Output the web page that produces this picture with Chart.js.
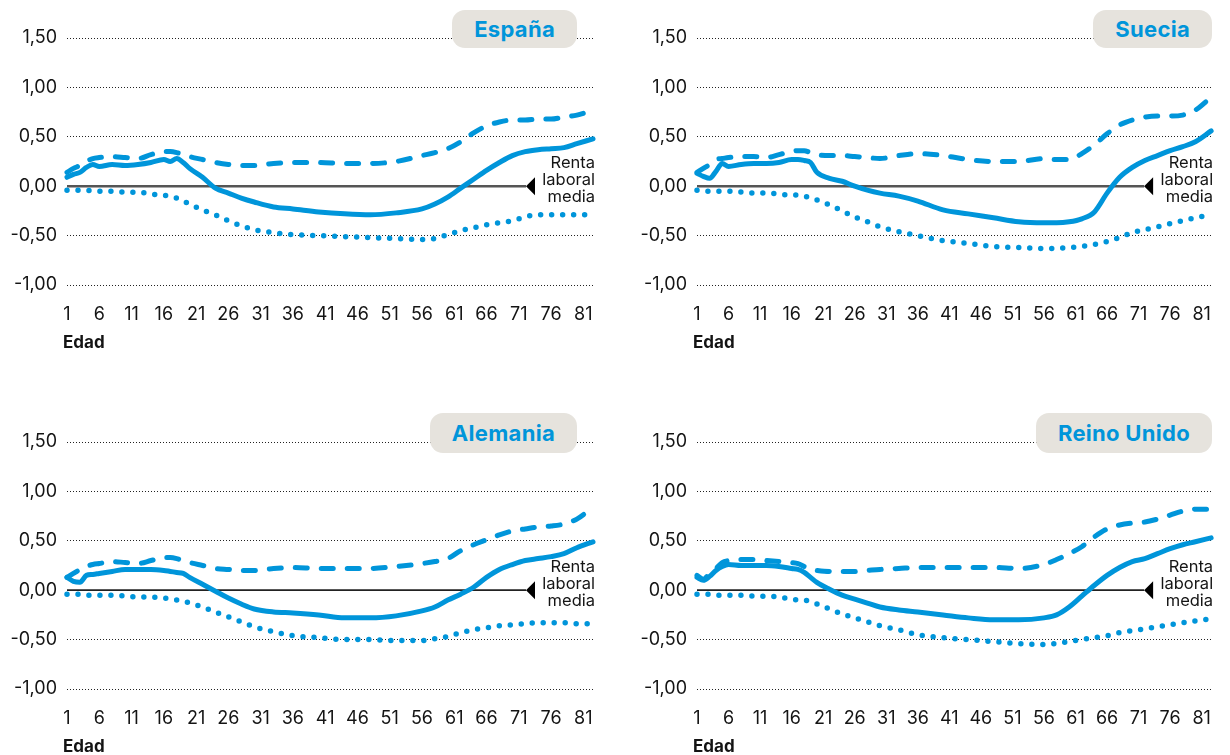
<!DOCTYPE html>
<html lang="es">
<head>
<meta charset="utf-8">
<title>Renta laboral por edad</title>
<script src="https://cdn.jsdelivr.net/npm/chart.js@4.4.1/dist/chart.umd.min.js"></script>
<style>
	html, body { margin: 0; padding: 0; background: #fff; overflow: hidden; }
	body { width: 1230px; height: 755px; position: relative; font-family: Inter, 'Noto Sans', sans-serif; }
	.panel { position: absolute; height: 350px; }
	.panel canvas { position: absolute; left: 0; top: 0; }
	.badge {
		position: absolute;
		height: 38px;
		line-height: 38px;
		padding: 0 22px;
		border-radius: 13px;
		background: #e6e3dd;
		color: #0095da;
		font-weight: 700;
		font-size: 22px;
		letter-spacing: 0.3px;
		z-index: 2;
		white-space: nowrap;
	}
</style>
</head>
<body>
<div class="panel" id="p-es" style="left:0;top:0;width:615px"><canvas id="c-es" width="615" height="350"></canvas><div class="badge" style="right:38px;top:10px">España</div></div>
<div class="panel" id="p-se" style="left:630px;top:0;width:600px"><canvas id="c-se" width="600" height="350"></canvas><div class="badge" style="right:18px;top:10px">Suecia</div></div>
<div class="panel" id="p-de" style="left:0;top:404px;width:615px"><canvas id="c-de" width="615" height="350"></canvas><div class="badge" style="right:38px;top:9px;height:40px;line-height:40px">Alemania</div></div>
<div class="panel" id="p-uk" style="left:630px;top:404px;width:600px"><canvas id="c-uk" width="600" height="350"></canvas><div class="badge" style="right:18px;top:9px;height:40px;line-height:40px">Reino Unido</div></div>

<script>
'use strict';

// edades en las que se leyeron los valores
const ages = [1, 2, 3, 4, 5, 6, 8, 10, 12, 14, 16, 17, 18, 19, 20, 22, 24, 26, 28, 30, 33, 36, 40, 44, 48, 52, 56, 58, 60, 62, 64, 66, 68, 70, 72, 74, 76, 78, 80, 82.5];
const xTickAges = [1, 6, 11, 16, 21, 26, 31, 36, 41, 46, 51, 56, 61, 66, 71, 76, 81];
const yTickValues = [-1, -0.5, 0, 0.5, 1, 1.5];

// España
const esSolid = [0.09, 0.12, 0.14, 0.19, 0.22, 0.20, 0.22, 0.21, 0.22, 0.24, 0.27, 0.25, 0.28, 0.24, 0.18, 0.09, -0.02, -0.07, -0.12, -0.16, -0.21, -0.23, -0.26, -0.28, -0.29, -0.27, -0.23, -0.18, -0.11, -0.02, 0.07, 0.16, 0.24, 0.31, 0.35, 0.37, 0.38, 0.39, 0.43, 0.48];
const esDashed = [0.14, 0.18, 0.21, 0.25, 0.28, 0.29, 0.30, 0.29, 0.28, 0.32, 0.35, 0.35, 0.34, 0.32, 0.30, 0.27, 0.24, 0.22, 0.21, 0.21, 0.23, 0.24, 0.24, 0.23, 0.23, 0.25, 0.31, 0.34, 0.38, 0.45, 0.54, 0.61, 0.65, 0.67, 0.67, 0.68, 0.68, 0.70, 0.72, 0.77];
const esDotted = [-0.04, -0.04, -0.04, -0.04, -0.05, -0.05, -0.05, -0.06, -0.06, -0.08, -0.09, -0.11, -0.12, -0.15, -0.18, -0.24, -0.29, -0.35, -0.40, -0.44, -0.47, -0.49, -0.50, -0.51, -0.52, -0.53, -0.54, -0.53, -0.49, -0.45, -0.42, -0.39, -0.37, -0.35, -0.31, -0.29, -0.29, -0.29, -0.29, -0.29];

// Suecia
const seSolid = [0.13, 0.10, 0.08, 0.15, 0.23, 0.20, 0.22, 0.23, 0.23, 0.24, 0.27, 0.27, 0.26, 0.24, 0.14, 0.08, 0.05, 0.00, -0.04, -0.07, -0.10, -0.15, -0.24, -0.28, -0.32, -0.36, -0.37, -0.37, -0.36, -0.33, -0.26, -0.07, 0.09, 0.19, 0.26, 0.31, 0.36, 0.40, 0.45, 0.56];
const seDashed = [0.14, 0.18, 0.22, 0.27, 0.28, 0.29, 0.30, 0.30, 0.29, 0.32, 0.35, 0.36, 0.36, 0.34, 0.32, 0.31, 0.31, 0.30, 0.29, 0.28, 0.31, 0.33, 0.31, 0.27, 0.25, 0.25, 0.28, 0.27, 0.27, 0.33, 0.42, 0.53, 0.62, 0.67, 0.70, 0.71, 0.71, 0.72, 0.77, 0.90];
const seDotted = [-0.04, -0.05, -0.05, -0.05, -0.05, -0.05, -0.06, -0.07, -0.07, -0.08, -0.09, -0.09, -0.10, -0.12, -0.14, -0.19, -0.25, -0.31, -0.36, -0.41, -0.46, -0.50, -0.55, -0.58, -0.61, -0.62, -0.63, -0.63, -0.62, -0.61, -0.59, -0.56, -0.52, -0.47, -0.44, -0.41, -0.38, -0.35, -0.32, -0.29];

// Alemania
const deSolid = [0.13, 0.09, 0.08, 0.15, 0.16, 0.17, 0.19, 0.21, 0.21, 0.21, 0.20, 0.19, 0.18, 0.17, 0.13, 0.06, -0.01, -0.08, -0.14, -0.19, -0.22, -0.23, -0.25, -0.28, -0.28, -0.26, -0.21, -0.17, -0.10, -0.04, 0.03, 0.13, 0.21, 0.26, 0.30, 0.32, 0.34, 0.37, 0.43, 0.49];
const deDashed = [0.13, 0.17, 0.21, 0.24, 0.26, 0.27, 0.29, 0.28, 0.27, 0.30, 0.33, 0.33, 0.32, 0.30, 0.28, 0.25, 0.22, 0.21, 0.20, 0.20, 0.22, 0.23, 0.22, 0.22, 0.22, 0.24, 0.27, 0.29, 0.32, 0.40, 0.46, 0.51, 0.56, 0.60, 0.62, 0.64, 0.65, 0.67, 0.72, 0.84];
const deDotted = [-0.04, -0.04, -0.04, -0.05, -0.05, -0.05, -0.05, -0.06, -0.07, -0.07, -0.08, -0.09, -0.10, -0.11, -0.13, -0.17, -0.22, -0.27, -0.32, -0.37, -0.42, -0.46, -0.48, -0.50, -0.50, -0.51, -0.51, -0.49, -0.47, -0.43, -0.40, -0.38, -0.36, -0.35, -0.34, -0.33, -0.33, -0.33, -0.34, -0.34];

// Reino Unido
const ukSolid = [0.13, 0.10, 0.14, 0.20, 0.24, 0.26, 0.25, 0.25, 0.25, 0.24, 0.22, 0.21, 0.18, 0.13, 0.08, 0.01, -0.05, -0.09, -0.13, -0.17, -0.20, -0.22, -0.25, -0.28, -0.30, -0.30, -0.28, -0.25, -0.17, -0.06, 0.05, 0.15, 0.23, 0.29, 0.32, 0.37, 0.42, 0.46, 0.49, 0.53];
const ukDashed = [0.15, 0.11, 0.17, 0.22, 0.28, 0.30, 0.31, 0.31, 0.30, 0.29, 0.28, 0.27, 0.24, 0.21, 0.20, 0.19, 0.19, 0.19, 0.20, 0.21, 0.22, 0.23, 0.23, 0.23, 0.23, 0.22, 0.26, 0.31, 0.37, 0.44, 0.54, 0.62, 0.66, 0.68, 0.69, 0.72, 0.76, 0.80, 0.82, 0.82];
const ukDotted = [-0.04, -0.04, -0.04, -0.05, -0.05, -0.05, -0.05, -0.06, -0.06, -0.07, -0.09, -0.10, -0.10, -0.12, -0.14, -0.19, -0.24, -0.28, -0.32, -0.36, -0.40, -0.45, -0.48, -0.50, -0.52, -0.54, -0.55, -0.54, -0.52, -0.50, -0.48, -0.46, -0.43, -0.41, -0.39, -0.37, -0.35, -0.33, -0.31, -0.29];

const BLUE = '#0095da';
const INK = '#141414';

Chart.defaults.font.family = "Inter, 'Noto Sans', sans-serif";
Chart.defaults.color = INK;

const toPoints = function (values) {
	return ages.map((a, i) => ({ x: a, y: values[i] }));
};

// línea de la renta laboral media, el triángulo y su texto
const zeroLinePlugin = {
	id: 'zeroLine',
	beforeDatasetsDraw(chart, args, opts) {
		const { ctx, chartArea } = chart;
		const y0 = chart.scales.y.getPixelForValue(0);
		const tip = chartArea.right - 67;
		ctx.save();
		ctx.strokeStyle = opts.color;
		ctx.lineWidth = opts.width;
		ctx.beginPath();
		ctx.moveTo(chartArea.left, y0);
		ctx.lineTo(tip, y0);
		ctx.stroke();
		ctx.restore();
	},
	afterDatasetsDraw(chart) {
		const { ctx, chartArea } = chart;
		const y0 = chart.scales.y.getPixelForValue(0);
		const tip = chartArea.right - 67;
		ctx.save();
		ctx.fillStyle = '#000';
		ctx.beginPath();
		ctx.moveTo(tip, y0);
		ctx.lineTo(tip + 9, y0 - 9);
		ctx.lineTo(tip + 9, y0 + 9);
		ctx.closePath();
		ctx.fill();

		ctx.fillStyle = INK;
		ctx.font = "16.5px Inter, 'Noto Sans', sans-serif";
		ctx.textAlign = 'right';
		ctx.textBaseline = 'middle';
		const xr = chartArea.right + 2;
		ctx.fillText('Renta', xr, y0 - 23);
		ctx.fillText('laboral', xr, y0 - 6);
		ctx.fillText('media', xr, y0 + 11);

		ctx.font = "bold 17px Inter, 'Noto Sans', sans-serif";
		ctx.textAlign = 'left';
		ctx.fillText('Edad', chartArea.left - 4, chartArea.bottom + 58);
		ctx.restore();
	},
};

const createPanel = function (canvasId, solid, dashed, dotted, padRight, zeroColor, zeroWidth) {
	const ctx = document.getElementById(canvasId);
	const common = {
		borderColor: BLUE,
		borderWidth: 5,
		pointRadius: 0,
		fill: false,
		cubicInterpolationMode: 'monotone',
		clip: false,
	};

	new Chart(ctx, {
		type: 'line',
		data: {
			datasets: [
				Object.assign({ label: 'Inferior', data: toPoints(dotted), borderDash: [0, 11], borderCapStyle: 'round' }, common, { borderWidth: 5.5 }),
				Object.assign({ label: 'Superior', data: toPoints(dashed), borderDash: [12, 14], borderCapStyle: 'round' }, common),
				Object.assign({ label: 'Media', data: toPoints(solid), borderCapStyle: 'round' }, common),
			],
		},
		options: {
			responsive: false,
			animation: false,
			events: [],
			layout: {
				padding: { top: 38, right: padRight, bottom: 20, left: 0 },
			},
			scales: {
				x: {
					type: 'linear',
					min: 1,
					max: 82.5,
					grid: { display: false, drawTicks: false },
					border: { display: false },
					afterBuildTicks: function (axis) {
						axis.ticks = xTickAges.map((v) => ({ value: v }));
					},
					afterFit: function (axis) {
						axis.height = 45;
					},
					ticks: {
						autoSkip: false,
						maxRotation: 0,
						padding: 19,
						color: INK,
						font: { size: 18 },
						callback: (v) => String(v),
					},
				},
				y: {
					min: -1,
					max: 1.5,
					afterBuildTicks: function (axis) {
						axis.ticks = yTickValues.map((v) => ({ value: v }));
					},
					afterFit: function (axis) {
						axis.width = 67;
					},
					grid: {
						drawTicks: false,
						color: (c) => (c.tick && c.tick.value === 0 ? 'rgba(0,0,0,0)' : '#222'),
						lineWidth: 1,
					},
					border: { display: false, dash: [1, 2] },
					ticks: {
						padding: 10,
						color: INK,
						font: { size: 18 },
						callback: (v) => v.toFixed(2).replace('.', ','),
					},
				},
			},
			plugins: {
				legend: { display: false },
				tooltip: { enabled: false },
				zeroLine: { color: zeroColor, width: zeroWidth },
			},
		},
		plugins: [zeroLinePlugin],
	});
};

document.addEventListener('DOMContentLoaded', function () {
	createPanel('c-es', esSolid, esDashed, esDotted, 22, '#555', 2.5);
	createPanel('c-se', seSolid, seDashed, seDotted, 6, '#555', 2.5);
	createPanel('c-de', deSolid, deDashed, deDotted, 22, '#222', 1.8);
	createPanel('c-uk', ukSolid, ukDashed, ukDotted, 6, '#222', 1.8);
});
</script>
</body>
</html>
